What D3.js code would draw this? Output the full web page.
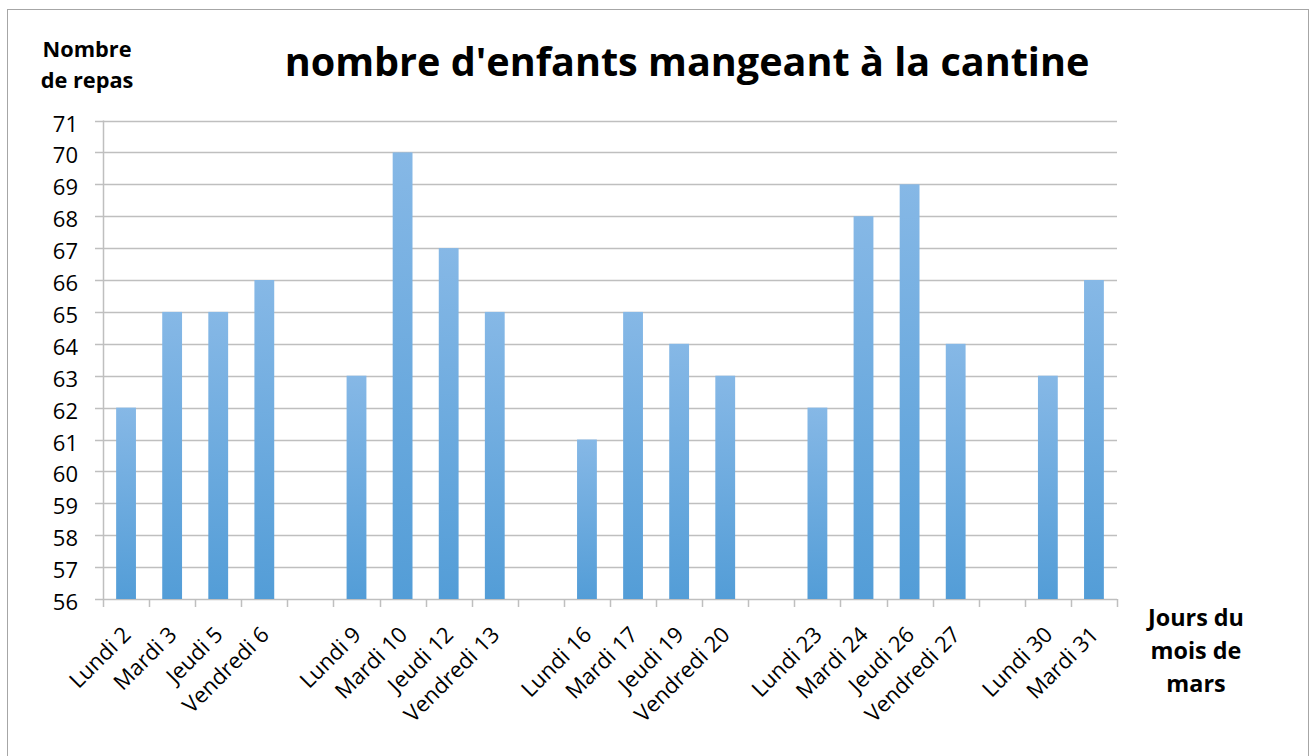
<!DOCTYPE html>
<html>
<head>
<meta charset="utf-8">
<script src="https://cdn.jsdelivr.net/npm/d3@7"></script>
<style>
  body { margin: 0; background: #fff; }
  text { font-family: "Open Sans", sans-serif; fill: #000; }
</style>
</head>
<body>
<svg id="vis" width="1311" height="756"></svg>
<script>
// one slot per school day, blank slots separate the weeks
var days = ["Lundi 2", "Mardi 3", "Jeudi 5", "Vendredi 6", "",
  "Lundi 9", "Mardi 10", "Jeudi 12", "Vendredi 13", " ",
  "Lundi 16", "Mardi 17", "Jeudi 19", "Vendredi 20", "  ",
  "Lundi 23", "Mardi 24", "Jeudi 26", "Vendredi 27", "   ",
  "Lundi 30", "Mardi 31"];
var repas = [62, 65, 65, 66, null,
  63, 70, 67, 65, null,
  61, 65, 64, 63, null,
  62, 68, 69, 64, null,
  63, 66];
var yTicks = d3.range(56, 72);

var svg = d3.select("#vis");
var margin = { top: 120.5, right: 194, bottom: 157, left: 103 };
var width = 1311, height = 756;

// size a bold text so that its first line is as wide as in the picture
function fitSize(str, target, weight) {
  var t = svg.append("text")
    .style("font-size", "100px")
    .style("font-weight", weight)
    .text(str);
  var w = t.node().getComputedTextLength();
  t.remove();
  return (100 * target) / w;
}

svg.append("rect")
  .attr("x", 7.5).attr("y", 9.5)
  .attr("width", 1301).attr("height", 760)
  .attr("fill", "none").attr("stroke", "#a6a6a6");

var xScale = d3.scaleBand()
  .domain(days)
  .range([margin.left, width - margin.right])
  .paddingInner(0.57)
  .paddingOuter(0.285);

var yScale = d3.scaleLinear()
  .domain([56, 71])
  .range([height - margin.bottom, margin.top]);

// grid lines
svg.append("g")
  .selectAll("line")
  .data(yTicks)
  .enter()
  .append("line")
  .attr("x1", margin.left - 8)
  .attr("x2", width - margin.right)
  .attr("y1", d => Math.round(yScale(d)) + 0.5)
  .attr("y2", d => Math.round(yScale(d)) + 0.5)
  .style("stroke", "#bfbfbf")
  .style("stroke-width", "1.5px");

svg.append("g")
  .selectAll("text")
  .data(yTicks)
  .enter()
  .append("text")
  .attr("x", 78)
  .attr("y", d => yScale(d) + 11)
  .attr("text-anchor", "end")
  .style("font-size", "22px")
  .text(d => d);

// y axis line
svg.append("line")
  .attr("x1", margin.left + 0.5).attr("x2", margin.left + 0.5)
  .attr("y1", yScale(71)).attr("y2", yScale(56))
  .style("stroke", "#bfbfbf").style("stroke-width", "1.5px");

// x ticks at slot boundaries
var step = xScale.step();
var x0 = margin.left;
svg.append("g")
  .selectAll("line")
  .data(d3.range(days.length + 1))
  .enter()
  .append("line")
  .attr("x1", i => Math.round(x0 + i * step) + 0.5)
  .attr("x2", i => Math.round(x0 + i * step) + 0.5)
  .attr("y1", yScale(56))
  .attr("y2", yScale(56) + 8)
  .style("stroke", "#bfbfbf").style("stroke-width", "1.5px");

var defs = svg.append("defs");
var grad = defs.append("linearGradient")
  .attr("id", "barGrad")
  .attr("x1", 0).attr("y1", 0).attr("x2", 0).attr("y2", 1);
grad.append("stop").attr("offset", "0%").attr("stop-color", "#86b8e6");
grad.append("stop").attr("offset", "100%").attr("stop-color", "#539dd7");

svg.append("g")
  .selectAll("rect")
  .data(days.map((d, i) => ({ day: d, v: repas[i] })).filter(d => d.v !== null))
  .enter()
  .append("rect")
  .attr("x", d => xScale(d.day))
  .attr("width", xScale.bandwidth())
  .attr("y", d => yScale(d.v))
  .attr("height", d => yScale(56) - yScale(d.v))
  .style("fill", "url(#barGrad)");

// rotated day labels
svg.append("g")
  .selectAll("text")
  .data(days.filter(d => d.trim() !== ""))
  .enter()
  .append("text")
  .attr("text-anchor", "end")
  .attr("transform", d => {
    var cx = xScale(d) + xScale.bandwidth() / 2 + 6;
    return `translate(${cx}, 636) rotate(-45)`;
  })
  .style("font-size", "22px")
  .text(d => d);

var title = "nombre d'enfants mangeant à la cantine";
svg.append("text")
  .attr("x", 687)
  .attr("y", 76)
  .attr("text-anchor", "middle")
  .style("font-size", fitSize(title, 805, "bold") + "px")
  .style("font-weight", "bold")
  .text(title);

var yTitle = ["Nombre", "de repas"];
svg.append("text")
  .attr("text-anchor", "middle")
  .style("font-size", fitSize(yTitle[0], 89, "bold") + "px")
  .style("font-weight", "bold")
  .selectAll("tspan")
  .data(yTitle)
  .enter()
  .append("tspan")
  .attr("x", 87)
  .attr("y", (d, i) => 57 + i * 31)
  .text(d => d);

var xTitle = ["Jours du", "mois de", "mars"];
svg.append("text")
  .attr("text-anchor", "middle")
  .style("font-size", fitSize(xTitle[0], 96, "bold") + "px")
  .style("font-weight", "bold")
  .selectAll("tspan")
  .data(xTitle)
  .enter()
  .append("tspan")
  .attr("x", 1196)
  .attr("y", (d, i) => 626 + i * 33)
  .text(d => d);
</script>
</body>
</html>
